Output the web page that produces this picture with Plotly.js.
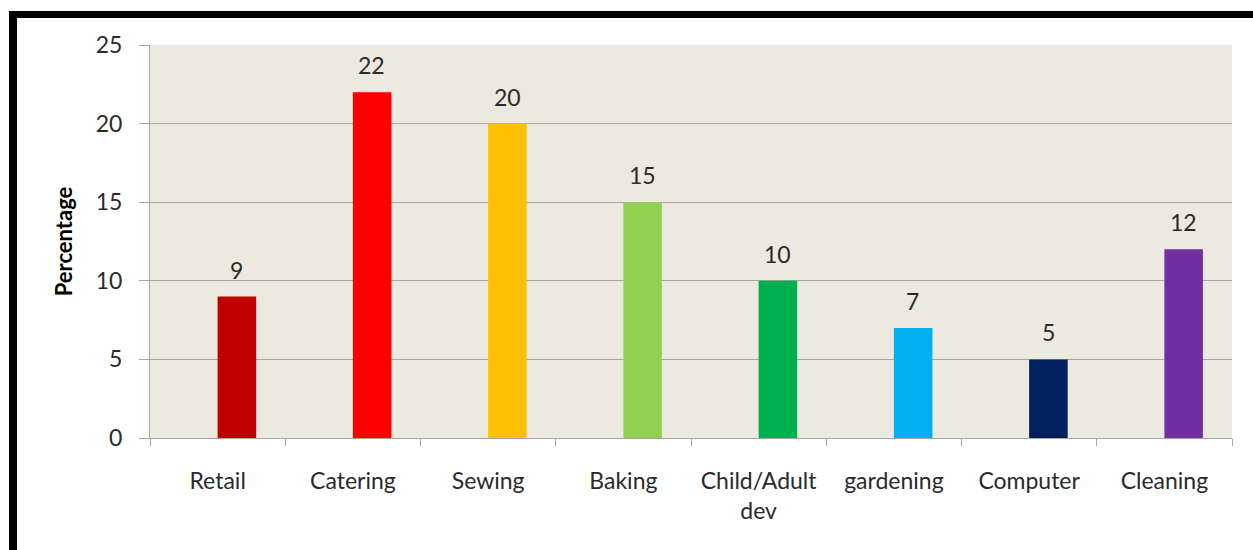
<!DOCTYPE html>
<html>
<head>
<meta charset="utf-8">
<script src="https://cdn.plot.ly/plotly-3.0.1.min.js"></script>
<style>
  html, body { margin: 0; padding: 0; background: #fff; }
  #wrap { position: relative; width: 1253px; height: 550px; }
  #chart { width: 1253px; height: 550px; }
  #frame { position: absolute; left: 9px; top: 11px; right: 0; bottom: 0;
           border-top: 7px solid #000; border-left: 8px solid #000; pointer-events: none; }
</style>
</head>
<body>
<div id="wrap">
  <div id="chart"></div>
  <div id="frame"></div>
</div>
<script>
const categories = ["Retail", "Catering", "Sewing", "Baking", "Child/Adult<br>dev", "gardening", "Computer", "Cleaning"];
const percentages = [9, 22, 20, 15, 10, 7, 5, 12];
const barColors = ["#C00000", "#FF0000", "#FFC000", "#92D050", "#00B050", "#00B0F0", "#002060", "#7030A0"];
const yTicks = [0, 5, 10, 15, 20, 25];

const FONT = "Lato, 'Open Sans', sans-serif";
const TXT = "#2a2a2a";
const GRID = "#A6A6A6";
const BAR_W = 0.285;

const trace = {
  type: "bar",
  x: categories,
  y: percentages,
  width: BAR_W,
  offset: 0,
  marker: { color: barColors, line: { width: 0 } },
  hoverinfo: "x+y"
};

const annotations = categories.map((c, i) => ({
  x: c, y: percentages[i], xref: "x", yref: "y",
  text: String(percentages[i]), showarrow: false,
  yanchor: "bottom", yshift: 11, xshift: 19,
  font: { family: FONT, size: 23, color: TXT }
}));

const layout = {
  width: 1253, height: 550,
  margin: { l: 150, r: 21, t: 45, b: 112 },
  paper_bgcolor: "#FFFFFF",
  plot_bgcolor: "#ECE9E0",
  showlegend: false,
  font: { family: FONT, size: 23, color: TXT },
  xaxis: {
    type: "category",
    tickson: "boundaries",
    ticks: "outside", ticklen: 7, tickcolor: GRID, tickwidth: 1,
    showline: true, linecolor: GRID, linewidth: 1,
    showgrid: false,
    range: [-0.5, categories.length - 0.5],
    ticklabelstandoff: 22,
    tickfont: { family: FONT, size: 23, color: TXT }
  },
  yaxis: {
    range: [0, 25],
    tickvals: yTicks,
    ticktext: yTicks.map(String),
    ticks: "outside", ticklen: 10, tickcolor: GRID, tickwidth: 1,
    showline: true, linecolor: GRID, linewidth: 1,
    showgrid: true, gridcolor: GRID, gridwidth: 1,
    zeroline: false,
    ticklabelstandoff: 12,
    tickfont: { family: FONT, size: 23, color: TXT },
    title: { text: "<b>Percentage</b>", font: { family: FONT, size: 22, color: "#000" }, standoff: 17 }
  },
  annotations: annotations
};

Plotly.newPlot("chart", [trace], layout, { displayModeBar: false, staticPlot: true });
</script>
</body>
</html>
